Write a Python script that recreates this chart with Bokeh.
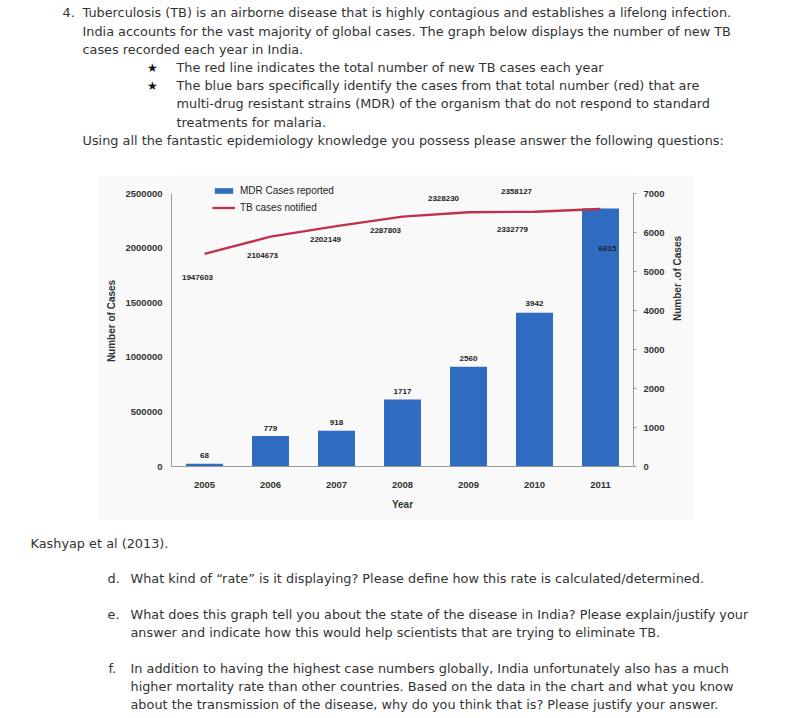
import math
from bokeh.plotting import figure
from bokeh.layouts import column, row
from bokeh.models import (ColumnDataSource, Range1d, FactorRange, LinearAxis, FixedTicker,
                          NumeralTickFormatter, Legend, LegendItem, Spacer)
from bokeh.embed import file_html
from bokeh.resources import INLINE
from bokeh.core.properties import value

# ---------------- data ----------------
years = ["2005", "2006", "2007", "2008", "2009", "2010", "2011"]
tb_notified = [1947603, 2104673, 2202149, 2287803, 2328230, 2332779, 2358127]
mdr_reported = [68, 779, 918, 1717, 2560, 3942, 6615]
left_ticks = [0, 500000, 1000000, 1500000, 2000000, 2500000]
right_ticks = [0, 1000, 2000, 3000, 4000, 5000, 6000, 7000]
series_names = ["MDR Cases reported", "TB cases notified"]

# label offsets (pixels, style only)
tb_label_dx = [-7, -8, -11, -17, -25, -22, -84]
tb_label_dy = [24, 19, 13.5, 14, -14, 18, -17.5]
mdr_label_dx = [0, 0, 0, 0, 0, 0, 7]
mdr_label_dy = [-8, -8, -8, -8, -8, -9, 40]

# document text (page-pixel layout)
top_lines = [
    ("4.", 62, 12),
    ("Tuberculosis (TB) is an airborne disease that is highly contagious and establishes a lifelong infection.", 82, 12),
    ("India accounts for the vast majority of global cases. The graph below displays the number of new TB", 82, 30.5),
    ("cases recorded each year in India.", 82, 49),
    ("The red line indicates the total number of new TB cases each year", 176, 67),
    ("The blue bars specifically identify the cases from that total number (red)  that are", 176, 85),
    ("multi-drug resistant strains (MDR) of the organism that do not respond to standard", 176, 103),
    ("treatments for malaria.", 176, 121.5),
    ("Using all the fantastic epidemiology knowledge you possess please answer the following questions:", 82, 140),
]
stars = [(152, 67), (152, 85)]
bottom_lines = [
    ("Kashyap et al (2013).", 30, 543),
    ("d.", 107, 578),
    ("What kind of \u201crate\u201d is it displaying? Please define how this rate is calculated/determined.", 130, 578),
    ("e.", 107, 614),
    ("What does this graph tell you about the state of the disease in India? Please explain/justify your", 130, 614),
    ("answer and indicate how this would help scientists that are trying to eliminate TB.", 130, 632),
    ("f.", 108, 668),
    ("In addition to having the highest case numbers globally, India unfortunately also has a much", 130, 668),
    ("higher mortality rate than other countries. Based on the data in the chart and what you know", 130, 686),
    ("about the transmission of the disease, why do you think that is? Please justify your answer.", 130, 704),
]

# ---------------- layout constants (page pixels) ----------------
PAGE_W, PAGE_H = 793, 716
IMG_L, IMG_R, IMG_T, IMG_B = 97, 694, 175, 520
FRAME_L, FRAME_R, FRAME_B = 171, 633, 466
TOP_TICK_Y = 193

FONT = "Liberation Sans"
DOC_FONT = "DejaVu Sans"
DOC_SIZE = "12.85px"
DOC_COLOR = "#333333"
AX_COLOR = "#9a9a9a"
TXT = "#333333"
BG = "#f9f9f9"


def text_figure(y_top, y_bottom, lines, star_pts=()):
    f = figure(width=PAGE_W, height=y_bottom - y_top, x_range=Range1d(0, PAGE_W),
               y_range=Range1d(y_bottom, y_top), output_backend="svg", toolbar_location=None,
               x_axis_location=None, y_axis_location=None, min_border=0)
    f.outline_line_color = None
    f.grid.visible = False
    f.background_fill_color = "white"
    f.border_fill_color = "white"
    f.text(x=[l[1] for l in lines], y=[l[2] for l in lines], text=[l[0] for l in lines],
           text_font=value(DOC_FONT), text_font_size=DOC_SIZE, text_color=DOC_COLOR,
           text_align="left", text_baseline="middle")
    if star_pts:
        f.text(x=[s[0] for s in star_pts], y=[s[1] for s in star_pts],
               text=["\u2605"] * len(star_pts), text_font=value("DejaVu Sans"),
               text_font_size="12px", text_color="#111111",
               text_align="center", text_baseline="middle")
    return f


top = text_figure(0, IMG_T, top_lines, stars)
bottom = text_figure(IMG_B, PAGE_H, bottom_lines)

# ---------------- chart ----------------
CW, CH = IMG_R - IMG_L, IMG_B - IMG_T
frame_h = FRAME_B - IMG_T
scale = frame_h / (FRAME_B - TOP_TICK_Y)

src = ColumnDataSource(dict(year=years, tb=tb_notified, mdr=mdr_reported,
                            tb_lbl=[str(v) for v in tb_notified],
                            mdr_lbl=[str(v) for v in mdr_reported],
                            tdx=tb_label_dx, tdy=tb_label_dy,
                            mdx=mdr_label_dx, mdy=mdr_label_dy))

p = figure(width=CW, height=CH, x_range=FactorRange(*years, range_padding=0),
           y_range=Range1d(0, left_ticks[-1] * scale), output_backend="svg",
           toolbar_location=None,
           min_border_left=FRAME_L - IMG_L, min_border_right=IMG_R - FRAME_R,
           min_border_top=0, min_border_bottom=IMG_B - FRAME_B)
p.extra_y_ranges = {"mdr": Range1d(0, right_ticks[-1] * scale)}
p.outline_line_color = None
p.grid.visible = False
p.background_fill_color = BG
p.border_fill_color = BG

bars = p.vbar(x="year", top="mdr", width=0.56, y_range_name="mdr", source=src,
              fill_color="#2f6bc1", line_color=None)
line = p.line(x="year", y="tb", source=src, line_color="#c2304c", line_width=2.3)

p.text(x="year", y="tb", text="tb_lbl", x_offset="tdx", y_offset="tdy", source=src,
       text_font=value(FONT), text_font_style="bold", text_font_size="8px",
       text_color="#222222", text_align="center", text_baseline="middle")
p.text(x="year", y="mdr", text="mdr_lbl", x_offset="mdx", y_offset="mdy", source=src,
       y_range_name="mdr",
       text_font=value(FONT), text_font_style="bold", text_font_size="8px",
       text_color="#222222", text_align="center", text_baseline="middle")


def style_axis(ax):
    ax.axis_line_color = AX_COLOR
    ax.minor_tick_line_color = None
    ax.major_label_text_font = FONT
    ax.major_label_text_font_style = "bold"
    ax.major_label_text_font_size = "9.5px"
    ax.major_label_text_color = TXT
    ax.axis_label_text_font = FONT
    ax.axis_label_text_font_style = "bold"
    ax.axis_label_text_font_size = "10px"
    ax.axis_label_text_color = TXT


xa = p.xaxis[0]
style_axis(xa)
xa.major_tick_line_color = None
xa.major_tick_out = 0
xa.major_tick_in = 0
xa.major_label_standoff = 15
xa.axis_label = "Year"
xa.axis_label_standoff = 8

ya = p.yaxis[0]
style_axis(ya)
ya.bounds = (left_ticks[0], left_ticks[-1])
ya.ticker = FixedTicker(ticks=left_ticks)
ya.formatter = NumeralTickFormatter(format="0")
ya.major_tick_line_color = None
ya.major_tick_out = 0
ya.major_tick_in = 0
ya.major_label_standoff = 9
ya.axis_label = "Number of Cases"
ya.axis_label_standoff = 6

ra = LinearAxis(y_range_name="mdr", ticker=FixedTicker(ticks=right_ticks),
                axis_label="Number .of Cases", bounds=(right_ticks[0], right_ticks[-1]))
style_axis(ra)
ra.major_tick_line_color = AX_COLOR
ra.major_tick_out = 3
ra.major_tick_in = 0
ra.major_label_standoff = 7
ra.axis_label_standoff = 10
try:
    ra.axis_label_orientation = math.pi / 2
except Exception:
    pass
p.add_layout(ra, "right")

legend = Legend(items=[LegendItem(label=series_names[0], renderers=[bars]),
                       LegendItem(label=series_names[1], renderers=[line])],
                location=(212 - FRAME_L, FRAME_B - 215.5), orientation="vertical",
                glyph_width=23, glyph_height=7, label_height=17, label_standoff=5,
                spacing=0, padding=0, margin=0, border_line_color=None,
                background_fill_alpha=0, label_text_font=FONT,
                label_text_font_size="10px", label_text_color="#222222")
p.add_layout(legend)

middle = row(Spacer(width=IMG_L, height=CH), p, Spacer(width=PAGE_W - IMG_R, height=CH))
layout = column(top, middle, bottom)

open("out.html", "w").write(file_html(layout, INLINE))
